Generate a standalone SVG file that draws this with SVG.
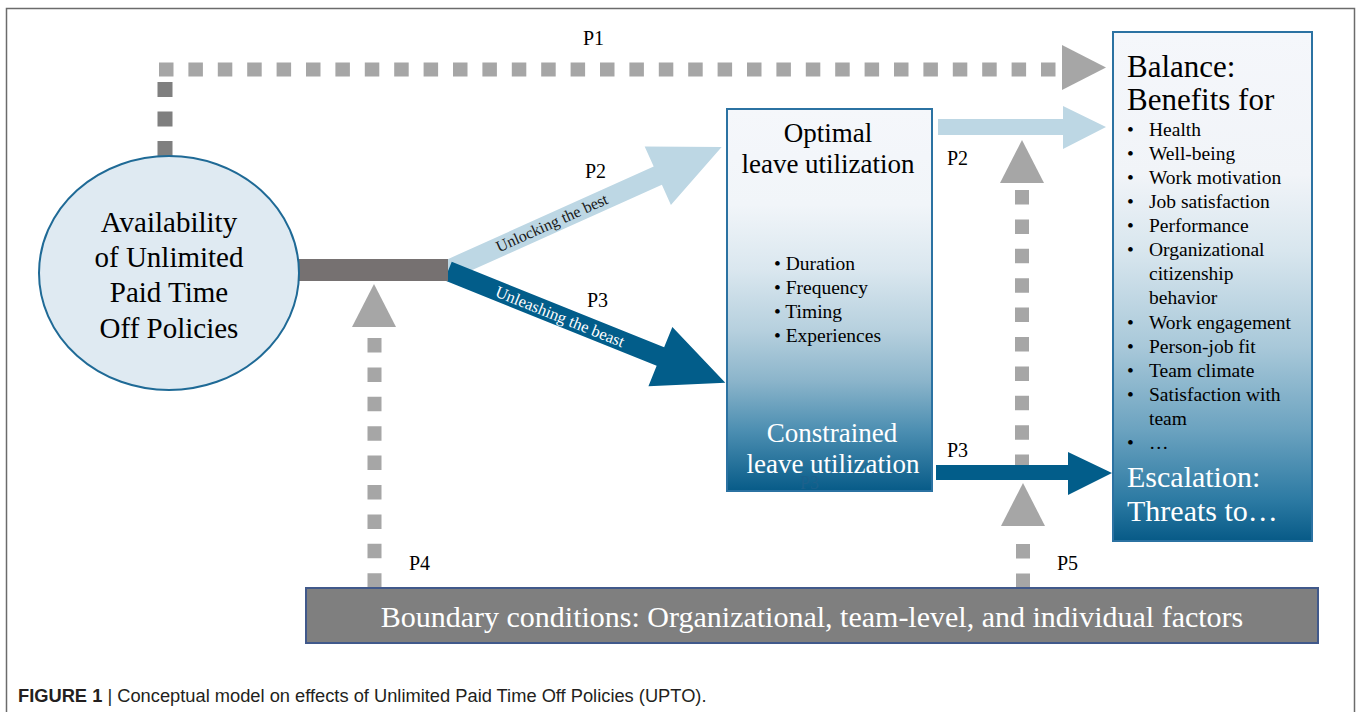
<svg xmlns="http://www.w3.org/2000/svg" width="1357" height="712" viewBox="0 0 1357 712">
<defs>
<linearGradient id="gMid" x1="0" y1="0" x2="0" y2="1">
<stop offset="0" stop-color="#f5f7fb"/>
<stop offset="0.25" stop-color="#f1f5f9"/>
<stop offset="0.42" stop-color="#dae7ef"/>
<stop offset="0.58" stop-color="#b6d0de"/>
<stop offset="0.71" stop-color="#8cb5cb"/>
<stop offset="0.84" stop-color="#4d8fb2"/>
<stop offset="1" stop-color="#075b88"/>
</linearGradient>
<linearGradient id="gRight" x1="0" y1="0" x2="0" y2="1">
<stop offset="0" stop-color="#f5f7fb"/>
<stop offset="0.28" stop-color="#f1f4f8"/>
<stop offset="0.43" stop-color="#d8e6ee"/>
<stop offset="0.62" stop-color="#a8c8d9"/>
<stop offset="0.78" stop-color="#6ca3c0"/>
<stop offset="0.92" stop-color="#2c7aa3"/>
<stop offset="1" stop-color="#075a87"/>
</linearGradient>
<style>
.serif{font-family:"Liberation Serif","Times New Roman",serif;}
.blk{fill:#000;}
.wht{fill:#fff;}
.lbl{font-family:"Liberation Serif","Times New Roman",serif;font-size:20px;fill:#000;}
.dotL{stroke:#a6a6a6;stroke-width:14;fill:none;stroke-dasharray:14.5 14.9;}
.dotD{stroke:#7f7f7f;stroke-width:15;fill:none;stroke-dasharray:15 14.5;}
.grey{fill:#a6a6a6;}
.lb{fill:#bdd7e4;}
.db{fill:#025d8a;}
.box{stroke:#2b72a2;stroke-width:2;}
</style>
</defs>
<rect x="6.5" y="8.5" width="1348" height="760" fill="#fff" stroke="#6b6b6b" stroke-width="1.5"/>

<g id="connectors">
<!-- P1 -->
<line class="dotD" x1="165" y1="82" x2="165" y2="156"/>
<line class="dotL" x1="159" y1="69.5" x2="1056" y2="69.5"/>
<polygon class="grey" points="1062,45 1106,67.5 1062,90"/>
<text class="lbl" x="583" y="45">P1</text>
<!-- P2 / P3 diagonal arrows -->
<g transform="translate(448,270) rotate(-24.2)">
<polygon class="lb" points="0,-10 230,-10 230,-32 300,0 230,32 230,10 0,10"/>
<text class="serif" x="114" y="5" font-size="16" text-anchor="middle" fill="#1a1a1a">Unlocking the best</text>
</g>
<g transform="translate(448,271) rotate(21.95)">
<polygon class="db" points="0,-10 229,-10 229,-32 299,0 229,32 229,10 0,10"/>
<text class="serif" x="121" y="6" font-size="16.5" text-anchor="middle" fill="#fff">Unleashing the beast</text>
</g>
<rect x="298" y="259" width="150" height="22" fill="#767171"/>
<text class="lbl" x="585" y="178">P2</text>
<text class="lbl" x="587" y="307">P3</text>
<!-- P2 right -->
<polygon class="lb" points="938,119 1063,119 1063,106 1106,127 1063,149 1063,135 938,135"/>
<text class="lbl" x="947" y="165">P2</text>
<!-- P5 -->
<line class="dotL" x1="1022" y1="190" x2="1022" y2="470"/>
<polygon class="grey" points="1000,183 1044,183 1022,140"/>
<line class="dotL" x1="1023" y1="544" x2="1023" y2="588"/>
<polygon class="grey" points="1001,526 1045,526 1023,483"/>
<text class="lbl" x="1057" y="570">P5</text>
<!-- P3 right -->
<polygon class="db" points="936,465 1068,465 1068,452 1112,473 1068,495 1068,480 936,480"/>
<text class="lbl" x="947" y="457">P3</text>
<!-- P4 -->
<line class="dotL" x1="374.5" y1="338" x2="374.5" y2="588"/>
<polygon class="grey" points="352,327 396,327 374,284"/>
<text class="lbl" x="409" y="570">P4</text>
</g>

<g id="node-upto">
<ellipse cx="169" cy="273" rx="130" ry="117" fill="#dfeaf2" stroke="#1f6a96" stroke-width="2"/>
<g class="serif blk" font-size="29" text-anchor="middle">
<text x="169" y="231.5">Availability</text>
<text x="169" y="266.5">of Unlimited</text>
<text x="169" y="302">Paid Time</text>
<text x="169" y="337.5">Off Policies</text>
</g>
</g>

<g id="node-leave">
<rect class="box" x="727" y="109" width="205" height="382" fill="url(#gMid)"/>
<g class="serif blk" font-size="27" text-anchor="middle">
<text x="828" y="142">Optimal</text>
<text x="828" y="173">leave utilization</text>
</g>
<g class="serif blk" font-size="19.5">
<text x="774" y="270">• Duration</text>
<text x="774" y="294">• Frequency</text>
<text x="774" y="318">• Timing</text>
<text x="774" y="342">• Experiences</text>
</g>
<text class="serif" x="800" y="489" font-size="18" fill="#1c618c">P3</text>
<g class="serif wht" font-size="27" text-anchor="middle">
<text x="832" y="442">Constrained</text>
<text x="833" y="473">leave utilization</text>
</g>
</g>

<g id="node-outcomes">
<rect class="box" x="1113" y="32" width="199" height="509" fill="url(#gRight)"/>
<g class="serif blk" font-size="31">
<text x="1127" y="77">Balance:</text>
<text x="1127" y="110">Benefits for</text>
</g>
<g class="serif blk" font-size="19.5">
<text x="1127" y="136">•</text><text x="1149" y="136">Health</text>
<text x="1127" y="160">•</text><text x="1149" y="160">Well-being</text>
<text x="1127" y="184">•</text><text x="1149" y="184">Work motivation</text>
<text x="1127" y="208">•</text><text x="1149" y="208">Job satisfaction</text>
<text x="1127" y="232">•</text><text x="1149" y="232">Performance</text>
<text x="1127" y="256">•</text><text x="1149" y="256">Organizational</text>
<text x="1149" y="280">citizenship</text>
<text x="1149" y="304">behavior</text>
<text x="1127" y="329">•</text><text x="1149" y="329">Work engagement</text>
<text x="1127" y="353">•</text><text x="1149" y="353">Person-job fit</text>
<text x="1127" y="377">•</text><text x="1149" y="377">Team climate</text>
<text x="1127" y="401">•</text><text x="1149" y="401">Satisfaction with</text>
<text x="1149" y="425">team</text>
<text x="1127" y="449">•</text><text x="1149" y="449">…</text>
</g>
<g class="serif wht" font-size="30">
<text x="1127" y="487">Escalation:</text>
<text x="1127" y="521">Threats to…</text>
</g>
</g>

<g id="node-boundary">
<rect x="306" y="588" width="1012" height="55" fill="#7f7f7f" stroke="#41598b" stroke-width="2"/>
<text class="serif wht" x="812" y="627" font-size="30" text-anchor="middle">Boundary conditions: Organizational, team-level, and individual factors</text>
</g>

<g id="caption">
<text x="18" y="702" font-family="Liberation Sans, Arial, sans-serif" font-size="18.3" fill="#231f20"><tspan font-weight="bold">FIGURE 1</tspan> | Conceptual model on effects of Unlimited Paid Time Off Policies (UPTO).</text>
</g>
</svg>
